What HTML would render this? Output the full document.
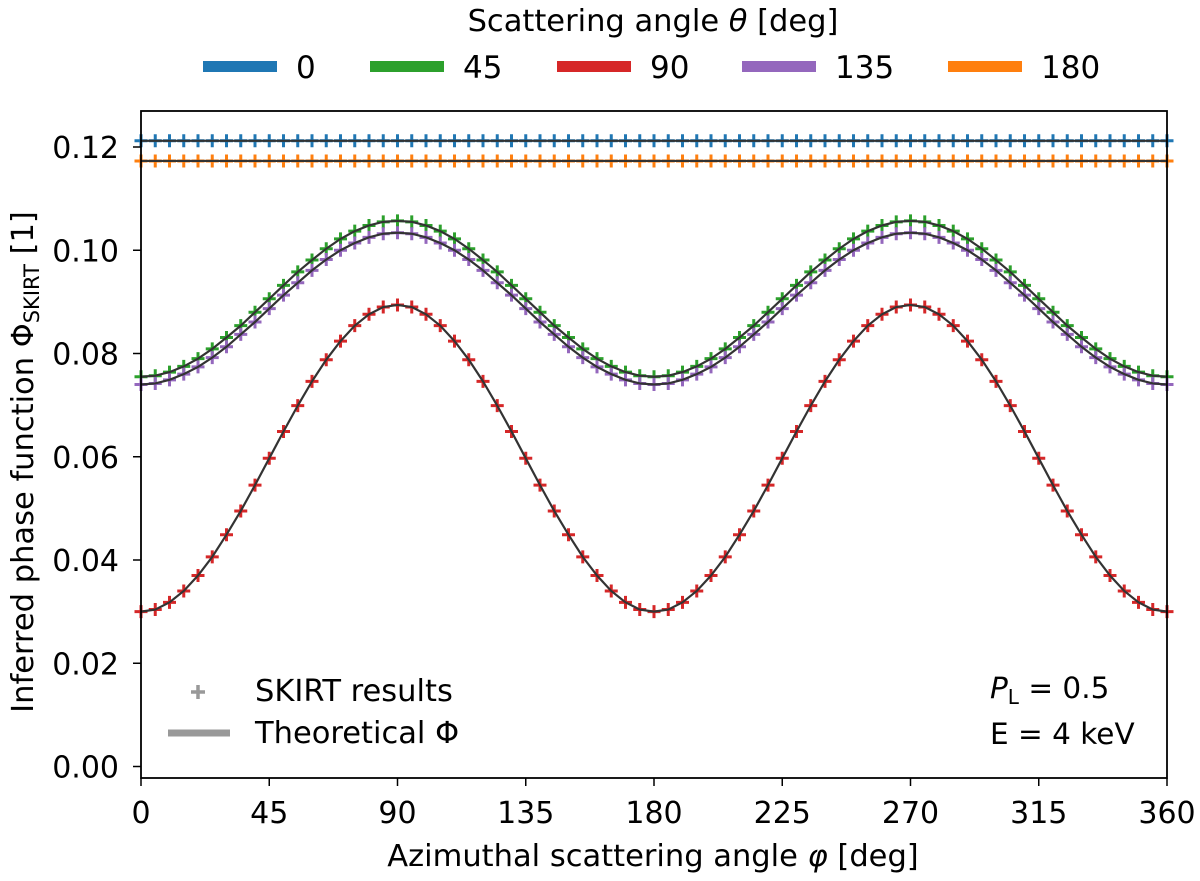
<!DOCTYPE html>
<html><head><meta charset="utf-8"><style>
body{margin:0;background:#fff}
svg text{font-family:"DejaVu Sans","Liberation Sans",sans-serif;fill:#000}
</style></head><body>
<svg id="chart" width="1200" height="876" viewBox="0 0 1200 876" xmlns="http://www.w3.org/2000/svg">
<g id="legendTop">
<text x="653" y="31" font-size="30.5" text-anchor="middle">Scattering angle <tspan font-style="italic">θ</tspan> [deg]</text>
</g>
<g id="plot"></g>
<g id="axes"></g>
<g>
<path d="M191 692h14M198 685v14" stroke="#999" stroke-width="3.5"/>
<text x="255" y="701" font-size="30.5">SKIRT results</text>
<line x1="168" y1="733" x2="230" y2="733" stroke="#999" stroke-width="7"/>
<text x="255" y="743" font-size="30.5">Theoretical Φ</text>
</g>
<text x="990" y="698" font-size="29.5"><tspan font-style="italic">P</tspan><tspan font-size="20" dy="6">L</tspan><tspan dy="-6"> = 0.5</tspan></text>
<text x="990" y="744" font-size="29.5">E = 4 keV</text>
<text x="653" y="866" font-size="30.5" text-anchor="middle">Azimuthal scattering angle <tspan font-style="italic">φ</tspan> [deg]</text>
<text transform="translate(33,462) rotate(-90)" font-size="30.5" text-anchor="middle">Inferred phase function Φ<tspan font-size="21" dy="6">SKIRT</tspan><tspan dy="-6"> [1]</tspan></text>
</svg>
<script>
const thetaLabels=["0","45","90","135","180"];
const colors=["#1f77b4","#2ca02c","#d62728","#9467bd","#ff7f0e"];
const xTicks=[0,45,90,135,180,225,270,315,360];
const yTicks=[0,0.02,0.04,0.06,0.08,0.10,0.12];
const yTickLabels=["0.00","0.02","0.04","0.06","0.08","0.10","0.12"];
const phi=[0,5,10,15,20,25,30,35,40,45,50,55,60,65,70,75,80,85,90,95,100,105,110,115,120,125,130,135,140,145,150,155,160,165,170,175,180,185,190,195,200,205,210,215,220,225,230,235,240,245,250,255,260,265,270,275,280,285,290,295,300,305,310,315,320,325,330,335,340,345,350,355,360];
const s0=[.1212,.1212,.1212,.1212,.1212,.1212,.1212,.1212,.1212,.1212,.1212,.1212,.1212,.1212,.1212,.1212,.1212,.1212,.1212,.1212,.1212,.1212,.1212,.1212,.1212,.1212,.1212,.1212,.1212,.1212,.1212,.1212,.1212,.1212,.1212,.1212,.1212,.1212,.1212,.1212,.1212,.1212,.1212,.1212,.1212,.1212,.1212,.1212,.1212,.1212,.1212,.1212,.1212,.1212,.1212,.1212,.1212,.1212,.1212,.1212,.1212,.1212,.1212,.1212,.1212,.1212,.1212,.1212,.1212,.1212,.1212,.1212,.1212];
const s180=[.1173,.1173,.1173,.1173,.1173,.1173,.1173,.1173,.1173,.1173,.1173,.1173,.1173,.1173,.1173,.1173,.1173,.1173,.1173,.1173,.1173,.1173,.1173,.1173,.1173,.1173,.1173,.1173,.1173,.1173,.1173,.1173,.1173,.1173,.1173,.1173,.1173,.1173,.1173,.1173,.1173,.1173,.1173,.1173,.1173,.1173,.1173,.1173,.1173,.1173,.1173,.1173,.1173,.1173,.1173,.1173,.1173,.1173,.1173,.1173,.1173,.1173,.1173,.1173,.1173,.1173,.1173,.1173,.1173,.1173,.1173,.1173,.1173];
const s90=[.0300,.0304,.0318,.0340,.0370,.0406,.0449,.0495,.0545,.0597,.0649,.0699,.0746,.0788,.0824,.0854,.0876,.0890,.0894,
.0890,.0876,.0854,.0824,.0788,.0746,.0699,.0649,.0597,.0545,.0495,.0449,.0406,.0370,.0340,.0318,.0304,.0300,
.0304,.0318,.0340,.0370,.0406,.0449,.0495,.0545,.0597,.0649,.0699,.0746,.0788,.0824,.0854,.0876,.0890,.0894,
.0890,.0876,.0854,.0824,.0788,.0746,.0699,.0649,.0597,.0545,.0495,.0449,.0406,.0370,.0340,.0318,.0304,.0300];
const s45=[.0755,.0757,.0764,.0775,.0790,.0809,.0831,.0854,.0880,.0906,.0932,.0958,.0981,.1003,.1022,.1037,.1048,.1055,.1057,
.1055,.1048,.1037,.1022,.1003,.0981,.0958,.0932,.0906,.0880,.0854,.0831,.0809,.0790,.0775,.0764,.0757,.0755,
.0757,.0764,.0775,.0790,.0809,.0831,.0854,.0880,.0906,.0932,.0958,.0981,.1003,.1022,.1037,.1048,.1055,.1057,
.1055,.1048,.1037,.1022,.1003,.0981,.0958,.0932,.0906,.0880,.0854,.0831,.0809,.0790,.0775,.0764,.0757,.0755];
const s135=[.0740,.0742,.0749,.0760,.0774,.0792,.0813,.0837,.0861,.0887,.0913,.0937,.0961,.0982,.1000,.1014,.1025,.1032,.1034,
.1032,.1025,.1014,.1000,.0982,.0961,.0937,.0913,.0887,.0861,.0837,.0813,.0792,.0774,.0760,.0749,.0742,.0740,
.0742,.0749,.0760,.0774,.0792,.0813,.0837,.0861,.0887,.0913,.0937,.0961,.0982,.1000,.1014,.1025,.1032,.1034,
.1032,.1025,.1014,.1000,.0982,.0961,.0937,.0913,.0887,.0861,.0837,.0813,.0792,.0774,.0760,.0749,.0742,.0740];
const series=[s0,s45,s90,s135,s180];

const NS="http://www.w3.org/2000/svg";
const L=141,R=1167,T=111,B=778;
const X=v=>L+(v-0)/(360-0)*(R-L);
const Y=v=>766.5-v/0.12*(766.5-147);
function mk(tag,attrs,parent){const e=document.createElementNS(NS,tag);for(const k in attrs)e.setAttribute(k,attrs[k]);parent.appendChild(e);return e;}
const plot=document.getElementById('plot'),axes=document.getElementById('axes'),lt=document.getElementById('legendTop');

const legX=[203,370,557,742,948];
thetaLabels.forEach((t,i)=>{
  const l=mk('rect',{x:legX[i],y:61,width:74,height:11,fill:colors[i]},lt);
  
  
  const tx=mk('text',{x:legX[i]+93,y:78,'font-size':31},lt);tx.textContent=t;
  
  
});

series.forEach((s,i)=>{
  const g=mk('g',{},plot);
  
  
  let d='';
  s.forEach((v,j)=>{const x=X(phi[j]),y=Y(v);d+=`M${x-6.5} ${y}h13M${x} ${y-6.5}v13`;});
  mk('path',{d:d,stroke:colors[i],'stroke-width':3,fill:'none'},g);
});
series.forEach((s,i)=>{
  const p=mk('path',{d:s.map((v,j)=>(j?'L':'M')+X(phi[j])+' '+Y(v)).join(''),stroke:'#333',
    'stroke-width':2.2,fill:'none'},plot);
  
  
});

const fr=mk('rect',{x:L,y:T,width:R-L,height:B-T,fill:'none',stroke:'#000','stroke-width':1.8},axes);


xTicks.forEach(v=>{
  const x=X(v);
  mk('line',{x1:x,x2:x,y1:B,y2:B+8,stroke:'#000','stroke-width':1.5},axes);
  const t=mk('text',{x:x,y:823,'font-size':30,'text-anchor':'middle'},axes);t.textContent=v;
  
  
});
yTicks.forEach((v,i)=>{
  const y=Y(v);
  mk('line',{x1:L-8,x2:L,y1:y,y2:y,stroke:'#000','stroke-width':1.5},axes);
  const t=mk('text',{x:L-22,y:y+11,'font-size':30,'text-anchor':'end'},axes);t.textContent=yTickLabels[i];
  
  
});
</script>
</body></html>
